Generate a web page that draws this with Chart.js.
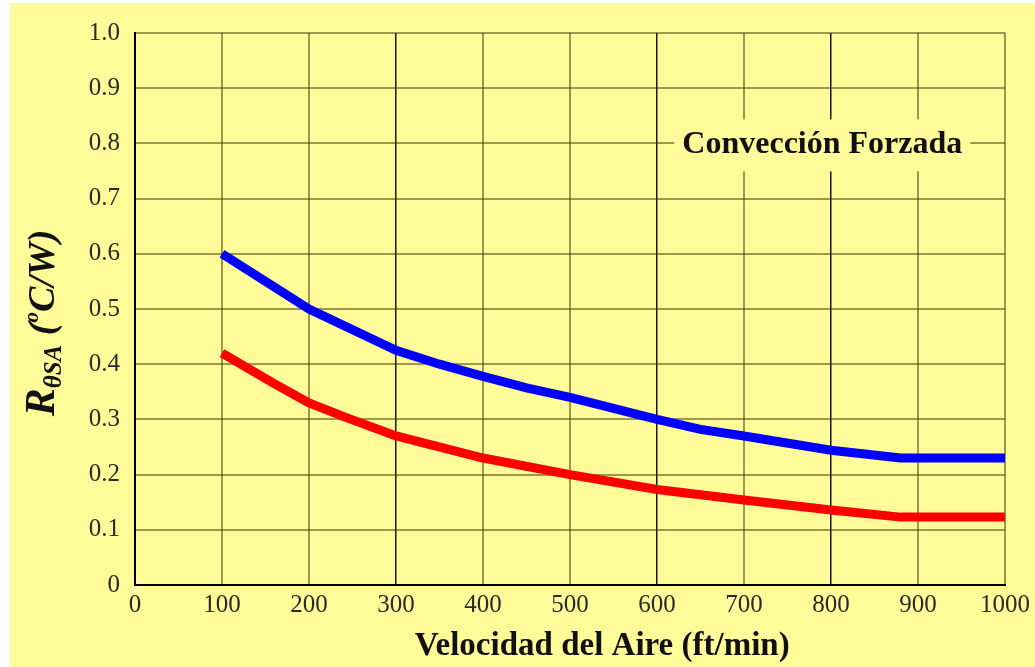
<!DOCTYPE html>
<html>
<head>
<meta charset="utf-8">
<script src="https://cdn.jsdelivr.net/npm/chart.js@4"></script>
<style>
  html, body { margin: 0; padding: 0; background: #fff; }
  #wrap { position: absolute; left: 10px; top: 3px; width: 1025px; height: 664px; background: #fffb98; }
</style>
</head>
<body>
<div id="wrap"><canvas id="myChart"></canvas></div>
<script>
// curva azul (superior)
var speedBlue = [100, 200, 300, 350, 400, 450, 500, 600, 650, 700, 800, 880, 1000];
var rBlue = [0.60, 0.50, 0.425, 0.40, 0.378, 0.357, 0.34, 0.30, 0.282, 0.27, 0.244, 0.23, 0.23];
// curva roja (inferior)
var speedRed = [100, 160, 200, 240, 300, 400, 500, 600, 700, 800, 880, 1000];
var rRed = [0.42, 0.365, 0.33, 0.305, 0.27, 0.23, 0.20, 0.173, 0.154, 0.136, 0.123, 0.123];

var yTickLabels = ['0', '0.1', '0.2', '0.3', '0.4', '0.5', '0.6', '0.7', '0.8', '0.9', '1.0'];
var darkX = [300, 600, 800];
var serif = "'Liberation Serif', 'DejaVu Serif', serif";

function toPoints(xs, ys) {
    return xs.map(function(x, i) { return { x: x, y: ys[i] }; });
}

var extras = {
    id: 'extras',
    afterDatasetsDraw: function(chart) {
        var ctx = chart.ctx, xs = chart.scales.x, ys = chart.scales.y;
        var area = chart.chartArea;
        ctx.save();
        // etiqueta Conveccion Forzada
        var txt = 'Convección Forzada';
        ctx.font = 'bold 32px ' + serif;
        var w = ctx.measureText(txt).width;
        var cx = xs.getPixelForValue(790), cy = ys.getPixelForValue(0.8);
        ctx.fillStyle = '#fffb98';
        ctx.fillRect(cx - w / 2 - 8, cy - 24, w + 16, 52);
        ctx.fillStyle = '#111';
        ctx.textAlign = 'center';
        ctx.textBaseline = 'middle';
        ctx.fillText(txt, cx, cy + 1);

        // titulo eje x
        ctx.font = 'bold 33px ' + serif;
        ctx.textBaseline = 'alphabetic';
        ctx.fillText('Velocidad del Aire (ft/min)', area.left + 0.537 * (area.right - area.left), 652);

        // titulo eje y con subindice y superindice
        var parts = [
            { t: 'R', f: 'italic bold 42px ', dy: 0 },
            { t: 'θSA', f: 'italic bold 25px ', dy: 7 },
            { t: ' (', f: 'italic bold 38px ', dy: 0 },
            { t: 'o', f: 'italic bold 21px ', dy: -16 },
            { t: 'C/W)', f: 'italic bold 38px ', dy: 0 }
        ];
        var total = 0;
        parts.forEach(function(p) { ctx.font = p.f + serif; p.w = ctx.measureText(p.t).width; total += p.w; });
        ctx.translate(44, 320);
        ctx.rotate(-Math.PI / 2);
        ctx.textAlign = 'left';
        var pos = -total / 2;
        parts.forEach(function(p) {
            ctx.font = p.f + serif;
            ctx.fillText(p.t, pos, p.dy);
            pos += p.w;
        });
        ctx.restore();
    }
};

var ctx = document.getElementById('myChart').getContext('2d');
var myChart = new Chart(ctx, {
    type: 'line',
    data: {
        datasets: [{
            label: 'azul',
            data: toPoints(speedBlue, rBlue),
            borderColor: '#0000ff',
            borderWidth: 9,
            pointRadius: 0,
            tension: 0
        }, {
            label: 'rojo',
            data: toPoints(speedRed, rRed),
            borderColor: '#ff0000',
            borderWidth: 9,
            pointRadius: 0,
            tension: 0
        }]
    },
    options: {
        responsive: true,
        maintainAspectRatio: false,
        animation: false,
        layout: { padding: { top: 29, right: 29, left: 0, bottom: 0 } },
        plugins: { legend: { display: false }, tooltip: { enabled: false } },
        scales: {
            x: {
                type: 'linear',
                min: 0,
                max: 1000,
                afterFit: function(s) { s.height = 82; },
                ticks: {
                    stepSize: 100,
                    padding: 5,
                    color: '#2a2a2a',
                    font: { family: serif, size: 25 },
                    callback: function(v) { return String(v); }
                },
                grid: {
                    drawTicks: false,
                    color: function(c) { return darkX.indexOf(c.tick && c.tick.value) >= 0 ? 'rgba(0,0,0,0.9)' : 'rgba(60,55,0,0.5)'; },
                    lineWidth: function(c) { return darkX.indexOf(c.tick && c.tick.value) >= 0 ? 1.5 : 2; }
                },
                border: { color: '#000', width: 2 }
            },
            y: {
                min: 0,
                max: 1,
                afterFit: function(s) { s.width = 125; },
                ticks: {
                    stepSize: 0.1,
                    padding: 15,
                    color: '#2a2a2a',
                    font: { family: serif, size: 25 },
                    callback: function(v, i) { return yTickLabels[i]; }
                },
                grid: { drawTicks: false, color: 'rgba(60,55,0,0.5)', lineWidth: 2 },
                border: { color: '#000', width: 2 }
            }
        }
    },
    plugins: [extras]
});
</script>
</body>
</html>
